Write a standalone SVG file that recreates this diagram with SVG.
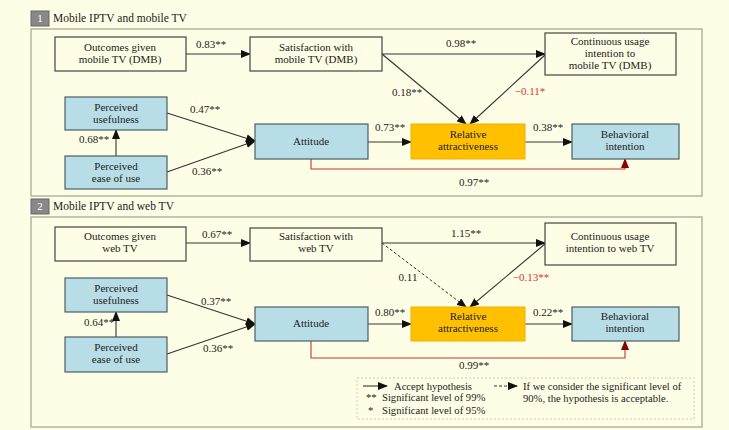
<svg xmlns="http://www.w3.org/2000/svg" width="729" height="430" viewBox="0 0 729 430">
<defs>
<marker id="ah" markerWidth="10" markerHeight="8" refX="9" refY="4" orient="auto" markerUnits="userSpaceOnUse"><path d="M0,0 L10,4 L0,8 Z" fill="#111"/></marker>
<marker id="ahr" markerWidth="10" markerHeight="8" refX="9" refY="4" orient="auto" markerUnits="userSpaceOnUse"><path d="M0,0 L10,4 L0,8 Z" fill="#8b0000"/></marker>
<style>
text{font-family:"Liberation Serif","Times New Roman",serif;font-size:11px;fill:#222}
.c{text-anchor:middle}
.red{fill:#e03030}
.lg{font-size:10.6px}
.panel{fill:#fefee6;stroke:#b5b5a0;stroke-width:1.5}
.wb{fill:#fefee6;stroke:#444;stroke-width:1.2}
.bb{fill:#b7dde6;stroke:#4a5e66;stroke-width:1.2}
.ob{fill:#ffc000;stroke:#f0b000;stroke-width:1}
.ln{stroke:#333;stroke-width:1.1;fill:none}
.rl{stroke:#c0392b;stroke-width:1.1;fill:none}
.dl{stroke:#333;stroke-width:1;fill:none;stroke-dasharray:3,2}
.tag{fill:#888;stroke:#666}
.tagt{fill:#fff;font-size:11px}
</style>
</defs>
<rect width="729" height="430" fill="#fefee6"/>

<!-- panel 1 -->
<rect class="tag" x="31" y="11" width="18" height="15"/>
<text class="tagt c" x="40" y="22">1</text>
<text x="53" y="22" style="font-size:11.5px">Mobile IPTV and mobile TV</text>
<rect class="panel" x="31" y="29" width="671" height="167"/>

<!-- panel 2 -->
<rect class="tag" x="31" y="199" width="18" height="15"/>
<text class="tagt c" x="40" y="210">2</text>
<text x="53" y="210" style="font-size:11.5px">Mobile IPTV and web TV</text>
<rect class="panel" x="31" y="217" width="671" height="210"/>

<g id="connectors">
<!-- panel 1 -->
<line class="ln" x1="186" y1="54" x2="250" y2="54" marker-end="url(#ah)"/>
<line class="ln" x1="382" y1="54" x2="545" y2="54" marker-end="url(#ah)"/>
<line class="ln" x1="382" y1="54" x2="466" y2="124" marker-end="url(#ah)"/>
<line class="ln" x1="545" y1="55" x2="470" y2="124" marker-end="url(#ah)"/>
<line class="ln" x1="167" y1="113" x2="255" y2="141" marker-end="url(#ah)"/>
<line class="ln" x1="167" y1="172" x2="255" y2="141" marker-end="url(#ah)"/>
<line class="ln" x1="116" y1="156" x2="116" y2="130" marker-end="url(#ah)"/>
<line class="ln" x1="368" y1="142" x2="411" y2="142" marker-end="url(#ah)"/>
<line class="ln" x1="525" y1="142" x2="572" y2="142" marker-end="url(#ah)"/>
<polyline class="rl" points="311,159 311,169 625,169 625,159" marker-end="url(#ahr)"/>
<!-- panel 2 -->
<line class="ln" x1="186" y1="243" x2="250" y2="243" marker-end="url(#ah)"/>
<line class="ln" x1="382" y1="243" x2="545" y2="243" marker-end="url(#ah)"/>
<line class="dl" x1="382" y1="243" x2="466" y2="307" marker-end="url(#ah)"/>
<line class="ln" x1="545" y1="244" x2="470" y2="307" marker-end="url(#ah)"/>
<line class="ln" x1="167" y1="295" x2="255" y2="324" marker-end="url(#ah)"/>
<line class="ln" x1="167" y1="354" x2="255" y2="324" marker-end="url(#ah)"/>
<line class="ln" x1="116" y1="337" x2="116" y2="312" marker-end="url(#ah)"/>
<line class="ln" x1="368" y1="324" x2="411" y2="324" marker-end="url(#ah)"/>
<line class="ln" x1="525" y1="324" x2="572" y2="324" marker-end="url(#ah)"/>
<polyline class="rl" points="311,341 311,358 625,358 625,341" marker-end="url(#ahr)"/>
</g>

<g id="edge-labels">
<text class="c" x="211" y="48">0.83**</text>
<text class="c" x="461" y="47">0.98**</text>
<text class="c" x="407" y="96">0.18**</text>
<text class="c red" x="530" y="95">−0.11*</text>
<text class="c" x="205" y="113">0.47**</text>
<text class="c" x="207" y="175">0.36**</text>
<text class="c" x="94" y="143">0.68**</text>
<text class="c" x="390" y="131">0.73**</text>
<text class="c" x="548" y="131">0.38**</text>
<text class="c" x="474" y="186">0.97**</text>

<text class="c" x="217" y="238">0.67**</text>
<text class="c" x="466" y="237">1.15**</text>
<text class="c" x="408" y="281">0.11</text>
<text class="c red" x="531" y="281">−0.13**</text>
<text class="c" x="216" y="305">0.37**</text>
<text class="c" x="218" y="352">0.36**</text>
<text class="c" x="99" y="326">0.64**</text>
<text class="c" x="390" y="316">0.80**</text>
<text class="c" x="548" y="316">0.22**</text>
<text class="c" x="474" y="369">0.99**</text>
</g>

<!-- panel 1 nodes -->
<g id="outcomes1"><rect class="wb" x="55" y="37" width="131" height="34"/><text class="c" x="120" y="51">Outcomes given</text><text class="c" x="120" y="63">mobile TV (DMB)</text></g>
<g id="satisfaction1"><rect class="wb" x="250" y="37" width="132" height="34"/><text class="c" x="316" y="51">Satisfaction with</text><text class="c" x="316" y="63">mobile TV (DMB)</text></g>
<g id="continuous1"><rect class="wb" x="545" y="33" width="131" height="42"/><text class="c" x="610" y="45">Continuous usage</text><text class="c" x="610" y="57">intention to</text><text class="c" x="610" y="69">mobile TV (DMB)</text></g>
<g id="pu1"><rect class="bb" x="65" y="97" width="102" height="33"/><text class="c" x="116" y="111">Perceived</text><text class="c" x="116" y="123">usefulness</text></g>
<g id="peou1"><rect class="bb" x="65" y="156" width="102" height="33"/><text class="c" x="116" y="170">Perceived</text><text class="c" x="116" y="182">ease of use</text></g>
<g id="attitude1"><rect class="bb" x="255" y="124" width="113" height="35"/><text class="c" x="311" y="145">Attitude</text></g>
<g id="relative1"><rect class="ob" x="411" y="124" width="114" height="35"/><text class="c" x="468" y="138">Relative</text><text class="c" x="468" y="150">attractiveness</text></g>
<g id="behavioral1"><rect class="bb" x="572" y="124" width="107" height="35"/><text class="c" x="625" y="138">Behavioral</text><text class="c" x="625" y="150">intention</text></g>

<!-- panel 2 nodes -->
<g id="outcomes2"><rect class="wb" x="55" y="227" width="131" height="34"/><text class="c" x="120" y="240">Outcomes given</text><text class="c" x="120" y="252">web TV</text></g>
<g id="satisfaction2"><rect class="wb" x="250" y="228" width="132" height="33"/><text class="c" x="316" y="240">Satisfaction with</text><text class="c" x="316" y="252">web TV</text></g>
<g id="continuous2"><rect class="wb" x="545" y="223" width="131" height="42"/><text class="c" x="610" y="240">Continuous usage</text><text class="c" x="610" y="252">intention to web TV</text></g>
<g id="pu2"><rect class="bb" x="65" y="278" width="102" height="34"/><text class="c" x="116" y="292">Perceived</text><text class="c" x="116" y="304">usefulness</text></g>
<g id="peou2"><rect class="bb" x="65" y="337" width="102" height="35"/><text class="c" x="116" y="351">Perceived</text><text class="c" x="116" y="363">ease of use</text></g>
<g id="attitude2"><rect class="bb" x="255" y="307" width="113" height="34"/><text class="c" x="311" y="327">Attitude</text></g>
<g id="relative2"><rect class="ob" x="411" y="307" width="114" height="34"/><text class="c" x="468" y="320">Relative</text><text class="c" x="468" y="332">attractiveness</text></g>
<g id="behavioral2"><rect class="bb" x="572" y="307" width="107" height="34"/><text class="c" x="625" y="320">Behavioral</text><text class="c" x="625" y="332">intention</text></g>

<!-- legend -->
<g id="legend">
<rect x="357" y="378" width="337" height="41" fill="#fefee6" stroke="#e0c0b8" stroke-dasharray="2,2"/>
<line class="ln" x1="363" y1="386" x2="387" y2="386" marker-end="url(#ah)"/>
<text class="lg" x="394" y="390">Accept hypothesis</text>
<text class="lg" x="366" y="401">**</text>
<text class="lg" x="382" y="401">Significant level of 99%</text>
<text class="lg" x="368" y="414">*</text>
<text class="lg" x="382" y="414">Significant level of 95%</text>
<line class="dl" x1="494" y1="386" x2="517" y2="386" marker-end="url(#ah)"/>
<text class="lg" x="523" y="390">If we consider the significant level of</text>
<text class="lg" x="523" y="402">90%, the hypothesis is acceptable.</text>
</g>
</svg>
